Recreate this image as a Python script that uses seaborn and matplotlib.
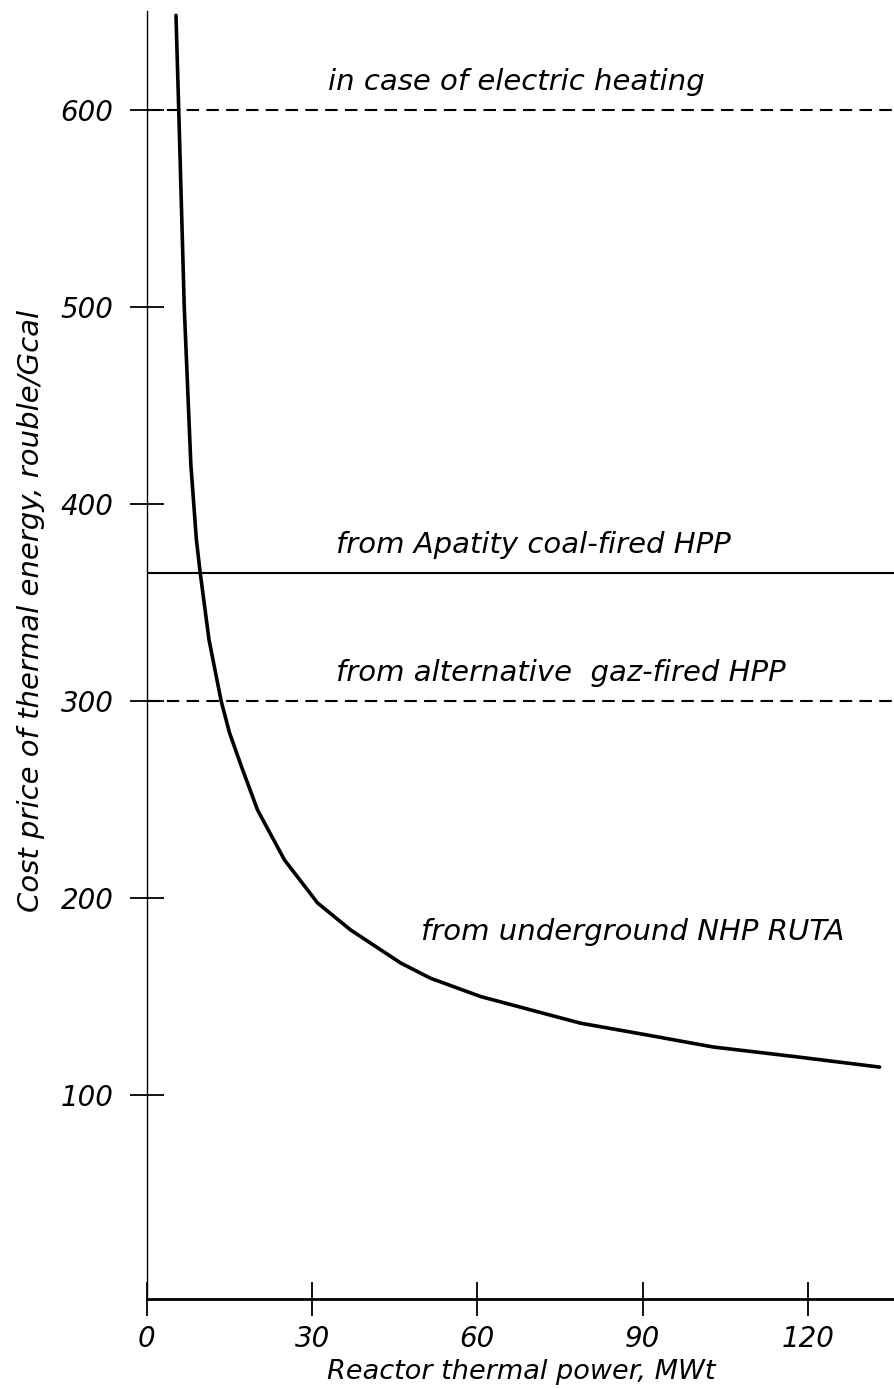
import matplotlib
matplotlib.use("Agg")
import matplotlib.pyplot as plt
import seaborn as sns
import pandas as pd

# values
power = [5.3, 5.8, 6.8, 8.0, 9.0, 9.7, 11.3, 13.5, 15.0, 17.2, 20.1, 25.0, 31.0, 37.0,
         46.1, 51.5, 60.6, 78.7, 90.8, 102.8, 118.0, 133.0]
cost = [648, 600, 500, 420, 382, 365, 331, 300, 284, 266.6, 244.7, 219.3, 197.5, 183.8,
        167, 159.3, 150, 136.5, 130.5, 124.4, 119.4, 114.2]
electric_cost = 600
coal_cost = 365
gas_cost = 300
x_ticks = [0, 30, 60, 90, 120]
y_ticks = [100, 200, 300, 400, 500, 600]

data = pd.DataFrame({"Power": power, "Cost": cost})

sns.set_style("ticks")
plt.rcParams['font.family'] = ['DejaVu Sans']
plt.rcParams['font.style'] = 'italic'
plt.rcParams['text.color'] = 'black'
plt.rcParams['axes.labelcolor'] = 'black'
plt.rcParams['xtick.color'] = 'black'
plt.rcParams['ytick.color'] = 'black'

fig = plt.figure(figsize=(8.95, 13.89), dpi=100)
ax = fig.add_axes([0.164, 0.0648, 0.836, 0.9352])

sns.lineplot(x="Power", y="Cost", data=data, color="black", linewidth=2.6, ax=ax)
ax.axhline(electric_cost, color="black", linewidth=1.5, dashes=(6, 3.5))
ax.axhline(coal_cost, color="black", linewidth=1.5)
ax.axhline(gas_cost, color="black", linewidth=1.5, dashes=(6, 3.5))

fs = 21
ax.text(32.9, electric_cost + 10, "in case of electric heating", fontsize=fs, style='italic')
ax.text(34.3, coal_cost + 10, "from Apatity coal-fired HPP", fontsize=fs, style='italic')
ax.text(34.3, gas_cost + 10, "from alternative  gaz-fired HPP", fontsize=fs, style='italic')
ax.text(49.7, 178.7, "from underground NHP RUTA", fontsize=fs, style='italic')

ax.set_xlim(0.3, 135.8)
ax.set_ylim(-3.5, 655.8)
ax.set_xticks(x_ticks)
ax.set_yticks(y_ticks)
ax.set_xticklabels([str(v) for v in x_ticks], fontsize=20, style='italic')
ax.set_yticklabels([str(v) for v in y_ticks], fontsize=20, style='italic')
ax.tick_params(axis='both', direction='inout', length=24, width=1.3, color='black')
ax.tick_params(axis='y', pad=12)
ax.tick_params(axis='x', pad=7)

ax.set_xlabel("Reactor thermal power, MWt", fontsize=19.5, style='italic', labelpad=4)
ax.set_ylabel("Cost price of thermal energy, rouble/Gcal", fontsize=21, style='italic')
ax.yaxis.set_label_coords(-0.136, 0.53)

sns.despine(ax=ax, top=True, right=True)
ax.spines['left'].set_bounds(-3.5, 650)
ax.spines['left'].set_linewidth(1.0)
ax.spines['bottom'].set_linewidth(2.0)
ax.spines['left'].set_color('black')
ax.spines['bottom'].set_color('black')

fig.savefig("out.png", dpi=100)
